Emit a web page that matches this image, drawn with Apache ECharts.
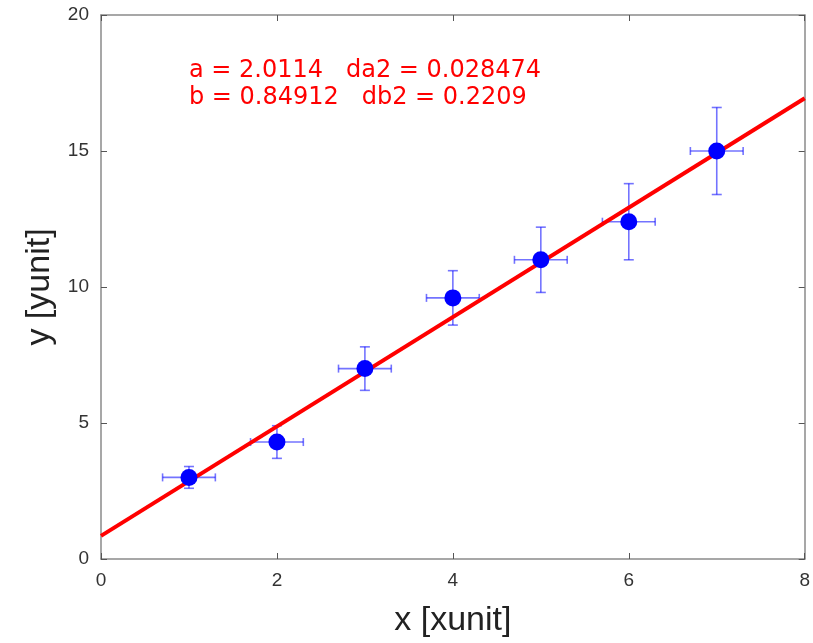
<!DOCTYPE html>
<html>
<head>
<meta charset="utf-8">
<script src="https://cdn.jsdelivr.net/npm/echarts@6/dist/echarts.min.js"></script>
<style>html,body{margin:0;padding:0;background:#fff;overflow:hidden;}#c{width:813px;height:643px;}</style>
</head>
<body>
<div id="c"></div>
<script>
var xs = [1, 2, 3, 4, 5, 6, 7];
var ys = [3.0, 4.3, 7.0, 9.6, 11.0, 12.4, 15.0];
var xErr = [0.3, 0.3, 0.3, 0.3, 0.3, 0.3, 0.3];
var yErr = [0.4, 0.6, 0.8, 1.0, 1.2, 1.4, 1.6];
var fitA = 2.0114, fitB = 0.84912;
var fitText = ['a = 2.0114   da2 = 0.028474', 'b = 0.84912   db2 = 0.2209'];
var xRange = [0, 8], yRange = [0, 20];
var xTicks = 2, yTicks = 5;

var chart = echarts.init(document.getElementById('c'), null, { width: 813, height: 643 });
var pts = xs.map(function (x, i) { return [x, ys[i]]; });
var errData = xs.map(function (x, i) { return [x, ys[i], xErr[i], yErr[i]]; });
var fitLine = xRange.map(function (x) { return [x, fitA * x + fitB]; });

var axisColor = '#8a8a8a';
var labelFont = 'Liberation Sans';
function mkX(pos, show) {
  return {
    type: 'value', min: xRange[0], max: xRange[1], interval: xTicks, position: pos,
    axisLine: { show: true, onZero: false, lineStyle: { color: axisColor, width: 1.5 } },
    axisTick: { show: true, inside: true, length: 6, lineStyle: { color: '#555', width: 1 } },
    axisLabel: { show: show, color: '#333', fontSize: 19, fontFamily: labelFont, margin: 12 },
    splitLine: { show: false },
    name: show ? 'x [xunit]' : '', nameLocation: 'middle', nameGap: 45,
    nameTextStyle: { fontSize: 34, color: '#222', fontFamily: labelFont }
  };
}
function mkY(pos, show) {
  return {
    type: 'value', min: yRange[0], max: yRange[1], interval: yTicks, position: pos,
    axisLine: { show: true, onZero: false, lineStyle: { color: axisColor, width: 1.5 } },
    axisTick: { show: true, inside: true, length: 6, lineStyle: { color: '#555', width: 1 } },
    axisLabel: { show: show, color: '#333', fontSize: 19, fontFamily: labelFont, margin: 12 },
    splitLine: { show: false },
    name: show ? 'y [yunit]' : '', nameLocation: 'middle', nameGap: 44,
    nameTextStyle: { fontSize: 34, color: '#222', fontFamily: labelFont }
  };
}

chart.setOption({
  animation: false,
  backgroundColor: '#fff',
  grid: { left: 101, top: 15, width: 707, height: 551 },
  xAxis: [mkX('bottom', true), mkX('top', false)],
  yAxis: [mkY('left', true), mkY('right', false)],
  graphic: [{
    type: 'text', left: 189, top: 57, z: 100,
    style: {
      text: fitText.join('\n'), fill: '#ff0000',
      font: '24px "DejaVu Sans"', lineHeight: 27
    }
  }],
  series: [
    {
      type: 'custom', z: 2,
      data: errData,
      renderItem: function (params, api) {
        var x = api.value(0), y = api.value(1), ex = api.value(2), ey = api.value(3);
        var l = api.coord([x - ex, y]), r = api.coord([x + ex, y]);
        var t = api.coord([x, y + ey]), b = api.coord([x, y - ey]);
        var st = { stroke: 'rgba(0,0,255,0.55)', lineWidth: 1.6, fill: null };
        var c = 5, cv = 4;
        return {
          type: 'group',
          children: [
            { type: 'line', shape: { x1: l[0], y1: l[1], x2: r[0], y2: r[1] }, style: st },
            { type: 'line', shape: { x1: l[0], y1: l[1] - cv, x2: l[0], y2: l[1] + cv }, style: st },
            { type: 'line', shape: { x1: r[0], y1: r[1] - cv, x2: r[0], y2: r[1] + cv }, style: st },
            { type: 'line', shape: { x1: t[0], y1: t[1], x2: b[0], y2: b[1] }, style: st },
            { type: 'line', shape: { x1: t[0] - c, y1: t[1], x2: t[0] + c, y2: t[1] }, style: st },
            { type: 'line', shape: { x1: b[0] - c, y1: b[1], x2: b[0] + c, y2: b[1] }, style: st }
          ]
        };
      }
    },
    {
      type: 'line', z: 3, data: fitLine, showSymbol: false, symbol: 'none',
      lineStyle: { color: '#ff0000', width: 4 }
    },
    {
      type: 'scatter', z: 4, data: pts, symbol: 'circle', symbolSize: 17,
      itemStyle: { color: '#0000ff', opacity: 1 }
    }
  ]
});
</script>
</body>
</html>
